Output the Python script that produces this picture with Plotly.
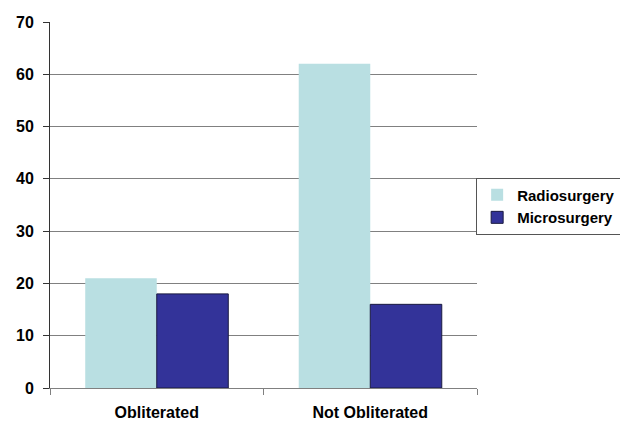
import plotly.graph_objects as go

categories = ["Obliterated", "Not Obliterated"]
radiosurgery = [21, 62]
microsurgery = [18, 16]
y_ticks = [0, 10, 20, 30, 40, 50, 60, 70]

FONT = "Arial, 'Liberation Sans', sans-serif"

fig = go.Figure()
fig.add_trace(go.Bar(x=categories, y=radiosurgery, name="Radiosurgery",
                     marker=dict(color="#b9dfe2", line=dict(width=0))))
fig.add_trace(go.Bar(x=categories, y=microsurgery, name="Microsurgery",
                     marker=dict(color="#333399", line=dict(color="#1a1a40", width=1))))

fig.update_layout(
    width=620, height=422,
    margin=dict(l=50, r=143, t=22, b=34, autoexpand=False),
    paper_bgcolor="white", plot_bgcolor="white",
    barmode="group", bargap=0.33, bargroupgap=0,
    font=dict(family=FONT, size=16, color="black"),
    showlegend=True,
    legend=dict(x=0.998, y=0.497, xanchor="left", yanchor="middle",
                bordercolor="#555555", borderwidth=1,
                font=dict(family=FONT, size=15, color="black", weight="bold"),
                tracegroupgap=0, itemwidth=30),
)
fig.update_xaxes(type="category", showgrid=False, showline=True, linecolor="#808080",
                 linewidth=1, ticks="outside", tickson="boundaries", ticklen=6,
                 tickcolor="#808080", ticklabelstandoff=10,
                 tickfont=dict(family=FONT, size=16, weight="bold"))
fig.update_yaxes(range=[0, 70], tickvals=y_ticks, showgrid=True, gridcolor="#808080",
                 gridwidth=1, showline=True, linecolor="#333333", linewidth=1,
                 ticks="outside", ticklen=6, tickcolor="#333333", zeroline=False,
                 ticklabelstandoff=6,
                 tickfont=dict(family=FONT, size=16, weight="bold"))

fig.write_html("out.html")
